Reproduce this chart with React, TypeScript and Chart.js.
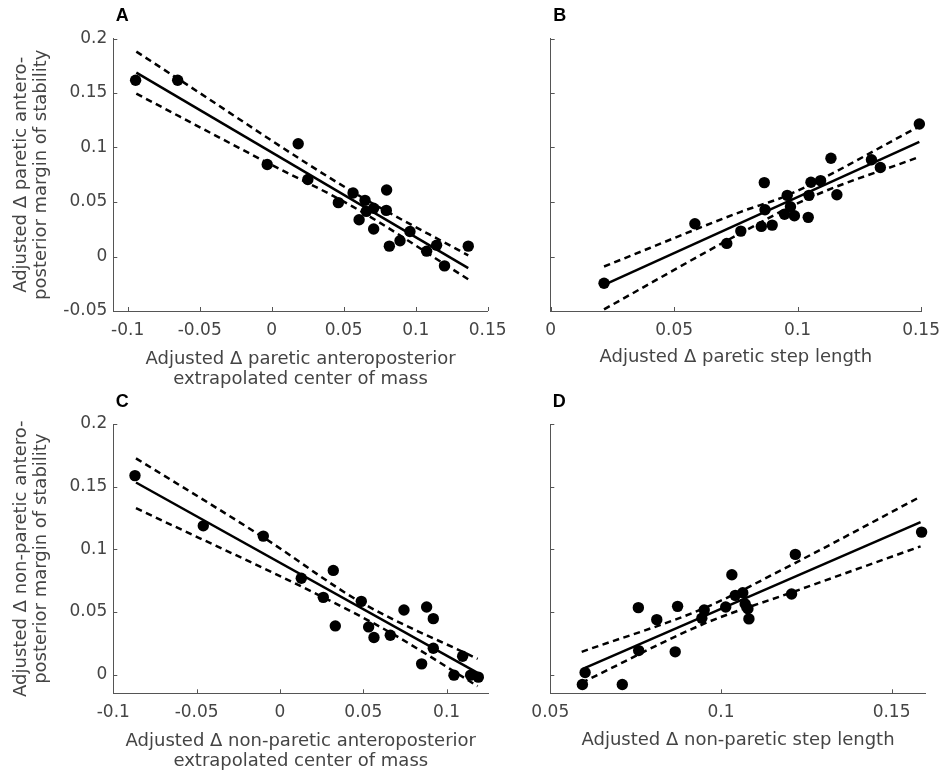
import React, { useEffect, useRef } from "react";
import { Chart, registerables } from "chart.js";
Chart.register(...registerables);

// ---------- Panel A ----------
const aPointX = [-0.0945, -0.0653, -0.0031, 0.0184, 0.0251, 0.0463, 0.0565, 0.0607, 0.0648, 0.0657, 0.0708, 0.0708, 0.0798, 0.0796, 0.0817, 0.0891, 0.096, 0.1076, 0.1145, 0.12, 0.1365];
const aPointY = [0.1617, 0.1617, 0.0844, 0.1034, 0.0706, 0.0494, 0.0583, 0.0337, 0.0515, 0.0414, 0.0442, 0.0252, 0.061, 0.0423, 0.0095, 0.0144, 0.023, 0.0049, 0.0104, -0.0086, 0.0095];
const aFitX = [-0.094, 0.1365];
const aFitY = [0.1687, -0.0107];
const aUpperX = [-0.094, -0.065, 0.056, 0.1365];
const aUpperY = [0.188, 0.163, 0.0595, 0.001];
const aLowerX = [-0.094, -0.003, 0.056, 0.1365];
const aLowerY = [0.1494, 0.086, 0.046, -0.0209];
const aXTicks = [-0.1, -0.05, 0, 0.05, 0.1, 0.15];
const aYTicks = [-0.05, 0, 0.05, 0.1, 0.15, 0.2];

// ---------- Panel B ----------
const bPointX = [0.0216, 0.0584, 0.0713, 0.077, 0.0853, 0.0865, 0.0868, 0.0897, 0.0947, 0.0958, 0.0971, 0.0987, 0.1043, 0.1046, 0.1054, 0.1093, 0.1135, 0.1159, 0.1299, 0.1335, 0.1493];
const bPointY = [-0.0245, 0.0301, 0.012, 0.0233, 0.0276, 0.0678, 0.0429, 0.0288, 0.0387, 0.0561, 0.0457, 0.0374, 0.0359, 0.0561, 0.0681, 0.0696, 0.0902, 0.0567, 0.0887, 0.0816, 0.1215];
const bFitX = [0.0216, 0.1493];
const bFitY = [-0.0261, 0.1052];
const bUpperX = [0.0216, 0.077, 0.0958, 0.1493];
const bUpperY = [-0.0092, 0.041, 0.0561, 0.1193];
const bLowerX = [0.0216, 0.077, 0.1046, 0.1493];
const bLowerY = [-0.0485, 0.0215, 0.0537, 0.0914];
const bXTicks = [0, 0.05, 0.1, 0.15];
const bYTicks = [-0.05, 0, 0.05, 0.1, 0.15, 0.2];

// ---------- Panel C ----------
const cPointX = [-0.087, -0.046, -0.01, 0.0128, 0.026, 0.032, 0.0332, 0.0488, 0.0532, 0.0564, 0.0662, 0.0744, 0.085, 0.088, 0.092, 0.092, 0.1044, 0.1096, 0.1144, 0.119];
const cPointY = [0.1588, 0.1187, 0.1105, 0.0768, 0.0616, 0.0831, 0.0388, 0.0584, 0.038, 0.0295, 0.0313, 0.0515, 0.0085, 0.0539, 0.0446, 0.021, -0.0005, 0.0146, -0.0005, -0.0021];
const cFitX = [-0.0864, 0.1186];
const cFitY = [0.1533, 0.0013];
const cUpperX = [-0.0864, -0.01, 0.0488, 0.1186];
const cUpperY = [0.1726, 0.1095, 0.0575, 0.0125];
const cLowerX = [-0.0864, 0.026, 0.0662, 0.1186];
const cLowerY = [0.1328, 0.0616, 0.0335, -0.0093];
const cXTicks = [-0.1, -0.05, 0, 0.05, 0.1];
const cYTicks = [0, 0.05, 0.1, 0.15, 0.2];

// ---------- Panel D ----------
const dPointX = [0.0594, 0.0602, 0.0711, 0.0758, 0.0759, 0.0812, 0.0866, 0.0873, 0.0944, 0.0951, 0.1014, 0.1032, 0.1042, 0.1064, 0.1071, 0.1079, 0.1082, 0.1207, 0.1218, 0.1588];
const dPointY = [-0.008, 0.0016, -0.008, 0.0534, 0.0191, 0.0438, 0.0181, 0.0544, 0.0449, 0.0515, 0.0539, 0.0797, 0.0632, 0.0653, 0.0563, 0.0526, 0.0444, 0.0643, 0.0959, 0.1137];
const dFitX = [0.0602, 0.1585];
const dFitY = [0.0053, 0.1216];
const dUpperX = [0.0592, 0.0951, 0.1207, 0.158];
const dUpperY = [0.0181, 0.053, 0.0876, 0.1413];
const dLowerX = [0.0592, 0.0951, 0.1207, 0.1585];
const dLowerY = [-0.0066, 0.0406, 0.0655, 0.1023];
const dXTicks = [0.05, 0.1, 0.15];
const dYTicks = [0, 0.05, 0.1, 0.15, 0.2];

// ---------- Labels ----------
const aXTitle = ["Adjusted \u0394 paretic anteroposterior", "extrapolated center of mass"];
const aYTitle = ["Adjusted \u0394 paretic antero-", "posterior margin of stability"];
const bXTitle = "Adjusted \u0394 paretic step length";
const cXTitle = ["Adjusted \u0394 non-paretic anteroposterior", "extrapolated center of mass"];
const cYTitle = ["Adjusted \u0394 non-paretic antero-", "posterior margin of stability"];
const dXTitle = "Adjusted \u0394 non-paretic step length";

const FONT = "'DejaVu Sans', sans-serif";
const TXT = "#444444";
const AX = "#555555";

const fmt = (v: number) => String(Math.round(v * 1000) / 1000);
const pts = (xs: number[], ys: number[]) => xs.map((x, i) => ({ x, y: ys[i] }));

const innerTicks = {
  id: "innerTicks",
  afterDraw(chart: any) {
    const { ctx, chartArea, scales } = chart;
    ctx.save();
    ctx.strokeStyle = AX;
    ctx.lineWidth = 1;
    const xs = scales.x;
    xs.ticks.forEach((t: any) => {
      const px = Math.round(xs.getPixelForValue(t.value)) + 0.5;
      ctx.beginPath();
      ctx.moveTo(px, chartArea.bottom);
      ctx.lineTo(px, chartArea.bottom - 4);
      ctx.stroke();
    });
    const ys = scales.y;
    ys.ticks.forEach((t: any) => {
      const py = Math.round(ys.getPixelForValue(t.value)) + 0.5;
      ctx.beginPath();
      ctx.moveTo(chartArea.left, py);
      ctx.lineTo(chartArea.left + 4, py);
      ctx.stroke();
    });
    ctx.restore();
  },
};

const panelLetter = {
  id: "panelLetter",
  afterDraw(chart: any, _args: any, opts: any) {
    const { ctx, chartArea } = chart;
    ctx.save();
    ctx.font = "bold 18px 'Liberation Sans', Arial, sans-serif";
    ctx.fillStyle = "#000";
    ctx.textAlign = "center";
    ctx.textBaseline = "middle";
    ctx.fillText(opts.text, chartArea.left + opts.dx, opts.y);
    ctx.restore();
  },
};

type Panel = {
  letter: string; letterY: number;
  left: number; top: number; w: number; h: number;
  yW: number; padTop: number; padRight: number; xH: number;
  xMin: number; xMax: number; yMin: number; yMax: number;
  xTicks: number[]; yTicks: number[]; showYLabels: boolean;
  xTitle: string | string[]; xTitlePad: number; yTitle: string[] | null;
  px: number[]; py: number[]; fx: number[]; fy: number[];
  ux: number[]; uy: number[]; lx: number[]; ly: number[];
};

const panels: Panel[] = [
  { letter: "A", letterY: 16, left: 0, top: 0, w: 530, h: 395, yW: 113.3, padTop: 38.5, padRight: 42.3, xH: 84,
    xMin: -0.11, xMax: 0.15, yMin: -0.05, yMax: 0.2, xTicks: aXTicks, yTicks: aYTicks, showYLabels: true,
    xTitle: aXTitle, xTitlePad: 5.25, yTitle: aYTitle,
    px: aPointX, py: aPointY, fx: aFitX, fy: aFitY, ux: aUpperX, uy: aUpperY, lx: aLowerX, ly: aLowerY },
  { letter: "B", letterY: 16, left: 500, top: 0, w: 449, h: 395, yW: 50.7, padTop: 38.5, padRight: 23.3, xH: 84,
    xMin: 0, xMax: 0.15, yMin: -0.05, yMax: 0.2, xTicks: bXTicks, yTicks: bYTicks, showYLabels: false,
    xTitle: bXTitle, xTitlePad: 27.45, yTitle: null,
    px: bPointX, py: bPointY, fx: bFitX, fy: bFitY, ux: bUpperX, uy: bUpperY, lx: bLowerX, ly: bLowerY },
  { letter: "C", letterY: 22, left: 0, top: 380, w: 500, h: 393, yW: 113.3, padTop: 44, padRight: 11.7, xH: 79.7,
    xMin: -0.1, xMax: 0.125, yMin: -0.015, yMax: 0.2, xTicks: cXTicks, yTicks: cYTicks, showYLabels: true,
    xTitle: cXTitle, xTitlePad: 1.05, yTitle: cYTitle,
    px: cPointX, py: cPointY, fx: cFitX, fy: cFitY, ux: cUpperX, uy: cUpperY, lx: cLowerX, ly: cLowerY },
  { letter: "D", letterY: 22, left: 500, top: 380, w: 449, h: 393, yW: 50.3, padTop: 44, padRight: 23.3, xH: 79.7,
    xMin: 0.05, xMax: 0.16, yMin: -0.015, yMax: 0.2, xTicks: dXTicks, yTicks: dYTicks, showYLabels: false,
    xTitle: dXTitle, xTitlePad: 22.05, yTitle: null,
    px: dPointX, py: dPointY, fx: dFitX, fy: dFitY, ux: dUpperX, uy: dUpperY, lx: dLowerX, ly: dLowerY },
];

function makeConfig(p: Panel): any {
  const lineBase = { showLine: true, pointRadius: 0, borderColor: "#000", borderWidth: 2.5, clip: false, fill: false };
  return {
    type: "scatter",
    data: {
      datasets: [
        { data: pts(p.px, p.py), showLine: false, pointRadius: 5.7, pointBorderWidth: 0, pointBackgroundColor: "#000", backgroundColor: "#000", clip: false },
        { ...lineBase, data: pts(p.fx, p.fy) },
        { ...lineBase, data: pts(p.ux, p.uy), borderDash: [6.5, 4.5], cubicInterpolationMode: "monotone" },
        { ...lineBase, data: pts(p.lx, p.ly), borderDash: [6.5, 4.5], cubicInterpolationMode: "monotone" },
      ],
    },
    options: {
      animation: false,
      responsive: false,
      devicePixelRatio: 1,
      events: [],
      layout: { padding: { left: 0, top: p.padTop, right: p.padRight, bottom: 0 } },
      plugins: {
        legend: { display: false },
        tooltip: { enabled: false },
        panelLetter: { text: p.letter, y: p.letterY, dx: 9 },
      },
      scales: {
        x: {
          type: "linear", position: "bottom", min: p.xMin, max: p.xMax,
          grid: { display: false, drawTicks: false },
          border: { display: true, color: AX, width: 1 },
          afterBuildTicks: (s: any) => { s.ticks = p.xTicks.map((v) => ({ value: v })); },
          afterFit: (s: any) => { s.height = p.xH; },
          ticks: { color: TXT, font: { family: FONT, size: 17 }, padding: 9, maxRotation: 0, autoSkip: false, callback: (v: any) => fmt(Number(v)) },
          title: { display: true, text: p.xTitle, color: TXT, font: { family: FONT, size: 18, lineHeight: 20.5 / 18 }, padding: { top: 0, bottom: p.xTitlePad } },
        },
        y: {
          type: "linear", position: "left", min: p.yMin, max: p.yMax,
          grid: { display: false, drawTicks: false },
          border: { display: true, color: AX, width: 1 },
          afterBuildTicks: (s: any) => { s.ticks = p.yTicks.map((v) => ({ value: v })); },
          afterFit: (s: any) => { s.width = p.yW; },
          ticks: { display: p.showYLabels, color: TXT, font: { family: FONT, size: 17 }, padding: 6, autoSkip: false, callback: (v: any) => fmt(Number(v)) },
          title: p.yTitle
            ? { display: true, text: p.yTitle, color: TXT, font: { family: FONT, size: 18, lineHeight: 20.5 / 18 }, padding: { top: 10.75, bottom: 0 } }
            : { display: false },
        },
      },
    },
    plugins: [innerTicks, panelLetter],
  };
}

export default function App() {
  const refs = useRef<(HTMLCanvasElement | null)[]>([]);
  useEffect(() => {
    const charts = panels.map((p, i) => new Chart(refs.current[i] as HTMLCanvasElement, makeConfig(p)));
    return () => charts.forEach((c) => c.destroy());
  }, []);
  return (
    <div style={{ position: "absolute", left: 0, top: 0, width: 949, height: 773, background: "#fff", overflow: "hidden" }}>
      {panels.map((p, i) => (
        <canvas
          key={p.letter}
          ref={(el) => { refs.current[i] = el; }}
          width={p.w}
          height={p.h}
          style={{ position: "absolute", left: p.left, top: p.top, width: p.w, height: p.h }}
        />
      ))}
    </div>
  );
}
